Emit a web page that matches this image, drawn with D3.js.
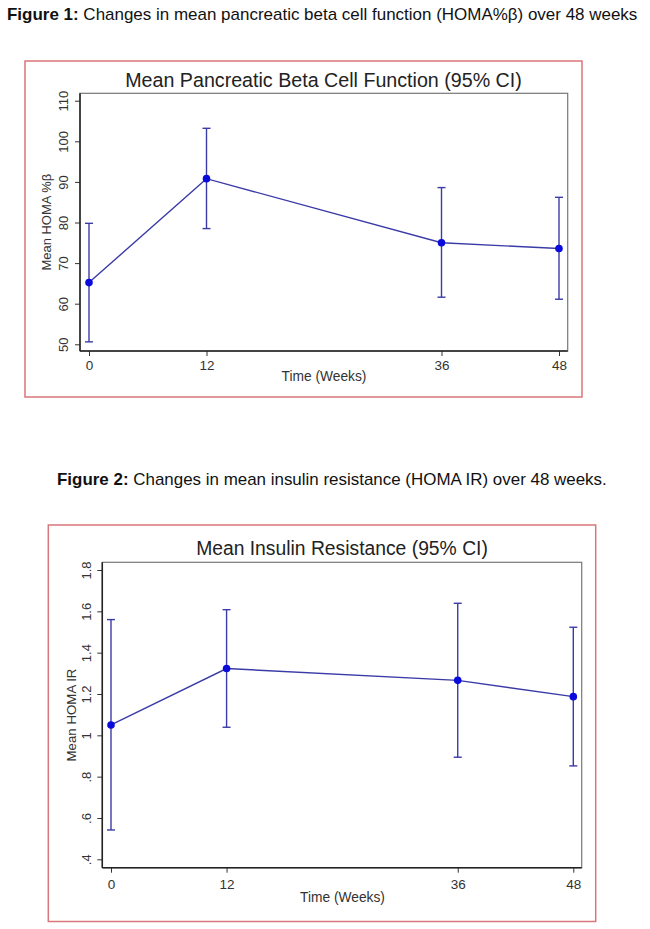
<!DOCTYPE html>
<html>
<head>
<meta charset="utf-8">
<script src="https://cdn.jsdelivr.net/npm/d3@7"></script>
<style>
  html, body { margin: 0; padding: 0; background: #fff; }
  svg { display: block; font-family: "Liberation Sans", Arial, sans-serif; }
</style>
</head>
<body>
<svg id="chart" width="650" height="929"></svg>
<script>
// ---- Data ----
const weeks = [0, 12, 36, 48];
const betaMean  = [65.2, 90.8, 75.0, 73.6];
const betaLower = [50.6, 78.5, 61.6, 61.1];
const betaUpper = [79.8, 103.2, 88.6, 86.2];
const betaTicks = [50, 60, 70, 80, 90, 100, 110];

const irMean  = [1.05, 1.323, 1.266, 1.187];
const irLower = [0.542, 1.039, 0.894, 0.852];
const irUpper = [1.56, 1.608, 1.639, 1.523];
const irTicks = [0.4, 0.6, 0.8, 1.0, 1.2, 1.4, 1.6, 1.8];

const xTicks = [0, 12, 36, 48];

const svg = d3.select("#chart");

function fit(sel, target) {
  const base = parseFloat(sel.style("font-size"));
  const w = sel.node().getComputedTextLength();
  sel.style("font-size", (base * target / w) + "px");
}

// captions
const c1 = svg.append("text").attr("x", 7).attr("y", 20).style("font-size", "14px").attr("fill", "#111");
c1.append("tspan").attr("font-weight", "bold").text("Figure 1:");
c1.append("tspan").text(" Changes in mean pancreatic beta cell function (HOMA%β) over 48 weeks");
fit(c1, 631);

const c2 = svg.append("text").attr("x", 57).attr("y", 485).style("font-size", "14px").attr("fill", "#111");
c2.append("tspan").attr("font-weight", "bold").text("Figure 2:");
c2.append("tspan").text(" Changes in mean insulin resistance (HOMA IR) over 48 weeks.");
fit(c2, 550);

function drawChart(cfg) {
  const g = svg.append("g");
  // outer red frame
  g.append("rect").attr("x", cfg.frame[0]).attr("y", cfg.frame[1])
    .attr("width", cfg.frame[2] - cfg.frame[0]).attr("height", cfg.frame[3] - cfg.frame[1])
    .attr("fill", "none").attr("stroke", "#d9777a").attr("stroke-width", 1.5);

  const [pl, pt, pr, pb] = cfg.plot;
  const x = d3.scaleLinear().domain([0, 48]).range([cfg.x0, cfg.x48]);
  const y = d3.scaleLinear().domain(cfg.yTickDomain).range(cfg.yTickRange);

  // plot region border
  g.append("rect").attr("x", pl).attr("y", pt).attr("width", pr - pl).attr("height", pb - pt)
    .attr("fill", "#fff").attr("stroke", "#777").attr("stroke-width", 1.2);

  // axes
  const yAxis = d3.axisLeft(y).tickValues(cfg.yTicks).tickSize(5).tickPadding(3).tickFormat(cfg.yFmt);
  const ya = g.append("g").attr("transform", `translate(${pl},0)`).call(yAxis);
  ya.attr("font-family", null).attr("font-size", null);
  ya.select(".domain").remove();
  ya.append("line").attr("x1", 0).attr("x2", 0).attr("y1", pt).attr("y2", pb).attr("stroke", "#222").attr("stroke-width", 1.5);
  ya.selectAll(".tick line").attr("stroke", "#333");
  ya.selectAll(".tick text")
    .style("font-size", "13px").attr("fill", "#333")
    .attr("text-anchor", "middle").attr("dy", null).attr("x", null)
    .attr("transform", `translate(${cfg.yTickLabelX - pl},0) rotate(-90)`)
    .attr("y", 0);

  const xAxis = d3.axisBottom(x).tickValues(xTicks).tickSize(5).tickPadding(3);
  const xa = g.append("g").attr("transform", `translate(0,${pb})`).call(xAxis);
  xa.attr("font-family", null).attr("font-size", null);
  xa.select(".domain").remove();
  xa.append("line").attr("x1", pl).attr("x2", pr).attr("y1", 0).attr("y2", 0).attr("stroke", "#222").attr("stroke-width", 1.5);
  xa.selectAll(".tick line").attr("stroke", "#333");
  xa.selectAll(".tick text").style("font-size", "13.5px").attr("fill", "#333").attr("dy", null)
    .attr("y", cfg.xTickBase - pb);

  // titles
  const t = g.append("text").attr("x", cfg.titleX).attr("y", cfg.titleY)
    .attr("text-anchor", "middle").style("font-size", "17px").attr("fill", "#222").text(cfg.title);
  fit(t, cfg.titleW);
  const xl = g.append("text").attr("x", cfg.xLabelX).attr("y", cfg.xLabelY)
    .attr("text-anchor", "middle").style("font-size", "12px").attr("fill", "#333").text("Time (Weeks)");
  fit(xl, 85);
  const yl = g.append("text").attr("transform", `translate(${cfg.yLabelX},${(pt + pb) / 2}) rotate(-90)`)
    .attr("text-anchor", "middle").style("font-size", "12px").attr("fill", "#333").text(cfg.yLabel);
  fit(yl, cfg.yLabelW);

  const data = weeks.map((w, i) => ({ w, m: cfg.mean[i], lo: cfg.lower[i], hi: cfg.upper[i] }));
  const col = "#3b3ba8";
  // error bars
  const eb = g.append("g").attr("stroke", col).attr("stroke-width", 1.4).attr("fill", "none");
  data.forEach(d => {
    eb.append("line").attr("x1", x(d.w)).attr("x2", x(d.w)).attr("y1", y(d.lo)).attr("y2", y(d.hi));
    eb.append("line").attr("x1", x(d.w) - 4).attr("x2", x(d.w) + 4).attr("y1", y(d.lo)).attr("y2", y(d.lo));
    eb.append("line").attr("x1", x(d.w) - 4).attr("x2", x(d.w) + 4).attr("y1", y(d.hi)).attr("y2", y(d.hi));
  });
  // line
  g.append("path").datum(data)
    .attr("d", d3.line().x(d => x(d.w)).y(d => y(d.m)))
    .attr("fill", "none").attr("stroke", col).attr("stroke-width", 1.4);
  // markers
  g.selectAll(null).data(data).enter().append("circle")
    .attr("cx", d => x(d.w)).attr("cy", d => y(d.m)).attr("r", 3.8)
    .attr("fill", "#0a0adc");
}

drawChart({
  frame: [25, 61, 582, 397],
  plot: [80, 93.3, 567.7, 351],
  x0: 89, x48: 559,
  yTickDomain: [50, 110], yTickRange: [344.3, 100.7],
  yTicks: betaTicks, yFmt: d3.format("d"),
  yTickLabelX: 67.5,
  xTickBase: 370,
  title: "Mean Pancreatic Beta Cell Function (95% CI)", titleX: 323.5, titleY: 87, titleW: 397,
  xLabelX: 324, xLabelY: 381,
  yLabel: "Mean HOMA %β", yLabelX: 51, yLabelW: 97,
  mean: betaMean, lower: betaLower, upper: betaUpper
});

drawChart({
  frame: [48.3, 525, 595.7, 921.5],
  plot: [102.3, 562.3, 581.7, 867.7],
  x0: 111, x48: 573.3,
  yTickDomain: [0.4, 1.8], yTickRange: [859.3, 570],
  yTicks: irTicks, yFmt: d => d === 1 ? "1" : d3.format(".1f")(d).replace(/^0/, ""),
  yTickLabelX: 91,
  xTickBase: 889.5,
  title: "Mean Insulin Resistance (95% CI)", titleX: 342, titleY: 555, titleW: 292,
  xLabelX: 342.5, xLabelY: 902,
  yLabel: "Mean HOMA IR", yLabelX: 76, yLabelW: 93,
  mean: irMean, lower: irLower, upper: irUpper
});
</script>
</body>
</html>
